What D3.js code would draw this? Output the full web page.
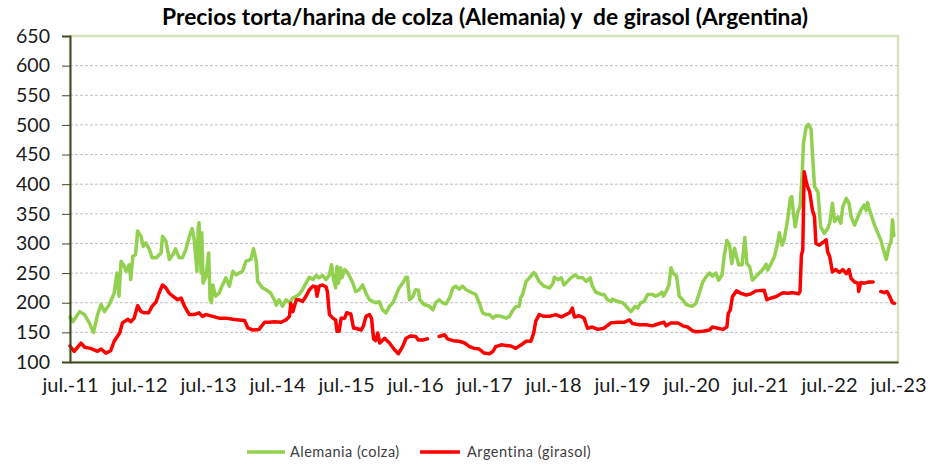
<!DOCTYPE html>
<html>
<head>
<meta charset="utf-8">
<script src="https://cdn.jsdelivr.net/npm/d3@7"></script>
<style>
  html, body { margin: 0; padding: 0; background: #ffffff; }
  svg { display: block; }
</style>
</head>
<body>
<svg id="chart" width="950" height="465"></svg>
<script>
// ---- Data (decimal year, value) ----
const titleText = "Precios torta/harina de colza (Alemania) y  de girasol (Argentina)";
const seriesNames = ["Alemania (colza)", "Argentina (girasol)"];
const yTicks = [100, 150, 200, 250, 300, 350, 400, 450, 500, 550, 600, 650];
const xTickYears = [2011.5, 2012.5, 2013.5, 2014.5, 2015.5, 2016.5, 2017.5, 2018.5, 2019.5, 2020.5, 2021.5, 2022.5, 2023.5];
const xTickLabels = ["jul.-11", "jul.-12", "jul.-13", "jul.-14", "jul.-15", "jul.-16", "jul.-17", "jul.-18", "jul.-19", "jul.-20", "jul.-21", "jul.-22", "jul.-23"];

const colza = [
[2011.50,176],[2011.54,168],[2011.64,185],[2011.71,180],[2011.78,166],[2011.84,150],[2011.90,180],[2011.95,197],[2012.00,185],[2012.07,197],
[2012.14,216],[2012.18,250],[2012.21,211],[2012.24,270],[2012.29,261],[2012.31,253],[2012.36,264],[2012.38,239],[2012.41,278],[2012.45,281],
[2012.48,321],[2012.53,312],[2012.56,295],[2012.60,301],[2012.65,290],[2012.69,276],[2012.75,276],[2012.82,284],[2012.84,312],[2012.89,304],
[2012.94,273],[2012.99,281],[2013.03,291],[2013.08,276],[2013.13,276],[2013.18,290],[2013.23,312],[2013.27,325],[2013.30,307],[2013.34,253],
[2013.36,329],[2013.37,335],[2013.40,250],[2013.41,318],[2013.43,233],[2013.47,244],[2013.51,284],[2013.53,205],[2013.55,200],[2013.57,230],
[2013.61,211],[2013.66,216],[2013.71,230],[2013.76,242],[2013.81,228],[2013.86,253],[2013.91,247],[2013.95,250],[2014.00,253],[2014.05,270],
[2014.12,273],[2014.16,291],[2014.20,270],[2014.22,236],[2014.29,225],[2014.34,222],[2014.41,216],[2014.46,205],[2014.49,196],
[2014.53,205],[2014.58,194],[2014.63,205],[2014.68,200],[2014.73,208],[2014.78,211],[2014.82,214],[2014.87,222],[2014.92,233],[2014.97,243],
[2015.02,239],[2015.07,246],[2015.11,242],[2015.16,246],[2015.21,239],[2015.26,247],[2015.29,264],[2015.32,239],[2015.35,225],[2015.37,261],
[2015.39,233],[2015.42,259],[2015.44,242],[2015.48,256],[2015.51,253],[2015.55,245],[2015.60,233],[2015.64,219],[2015.69,222],[2015.74,230],
[2015.79,216],[2015.84,205],[2015.89,202],[2015.93,200],[2015.98,202],[2016.03,188],[2016.08,183],[2016.13,194],[2016.18,200],[2016.22,211],
[2016.27,225],[2016.32,233],[2016.37,243],[2016.39,243],[2016.42,205],[2016.47,211],[2016.51,222],[2016.55,221],[2016.57,205],[2016.63,197],
[2016.71,194],[2016.76,188],[2016.80,200],[2016.85,205],[2016.90,200],[2016.95,198],[2017.00,208],[2017.05,225],[2017.09,228],[2017.14,223],
[2017.19,228],[2017.24,222],[2017.29,219],[2017.34,216],[2017.38,214],[2017.43,200],[2017.48,183],[2017.53,180],
[2017.58,180],[2017.63,174],[2017.67,178],[2017.75,177],[2017.82,174],[2017.87,177],[2017.92,188],[2017.96,193],[2018.01,194],[2018.03,208],
[2018.06,214],[2018.11,236],[2018.16,242],[2018.22,251],[2018.25,247],[2018.30,236],[2018.37,228],[2018.45,225],[2018.50,233],[2018.52,243],
[2018.57,239],[2018.62,242],[2018.66,230],[2018.71,236],[2018.76,242],[2018.82,247],[2018.87,242],[2018.93,242],[2018.98,236],[2019.04,242],
[2019.07,228],[2019.12,218],[2019.20,214],[2019.24,214],[2019.29,205],[2019.34,202],[2019.36,206],[2019.44,202],[2019.51,200],[2019.56,194],
[2019.63,185],[2019.69,194],[2019.73,191],[2019.77,200],[2019.82,202],[2019.87,214],[2019.94,214],[2019.99,211],[2020.04,214],[2020.08,218],
[2020.10,211],[2020.14,219],[2020.18,230],[2020.21,259],[2020.24,250],[2020.29,245],[2020.33,211],[2020.38,205],[2020.43,197],[2020.48,195],
[2020.52,194],[2020.57,199],
[2020.62,216],[2020.67,235],[2020.72,244],[2020.77,250],[2020.81,245],[2020.86,250],[2020.90,238],[2020.95,247],[2020.98,278],[2021.02,305],
[2021.06,297],[2021.09,266],[2021.13,292],[2021.16,278],[2021.19,264],[2021.24,264],[2021.28,310],[2021.31,266],[2021.35,261],[2021.39,238],
[2021.44,244],[2021.49,250],[2021.54,256],[2021.59,265],[2021.61,255],[2021.66,266],[2021.71,278],[2021.76,303],[2021.78,318],[2021.82,297],
[2021.85,306],[2021.90,340],[2021.94,376],[2021.96,379],[2021.98,356],[2022.01,328],[2022.05,354],[2022.08,362],[2022.11,413],[2022.13,469],
[2022.17,497],[2022.20,501],[2022.24,493],[2022.26,452],[2022.29,396],[2022.34,387],[2022.36,356],[2022.38,328],[2022.43,317],[2022.48,325],
[2022.51,334],[2022.55,368],[2022.58,337],[2022.63,345],[2022.67,334],[2022.70,362],[2022.75,376],[2022.79,368],[2022.82,345],[2022.87,331],
[2022.92,345],[2022.96,356],[2023.01,365],[2023.04,356],[2023.06,369],[2023.08,359],[2023.12,345],[2023.16,331],[2023.21,317],[2023.25,306],
[2023.29,289],[2023.33,273],[2023.37,295],[2023.40,303],[2023.42,340],[2023.44,313]
];

const girasol = [
[2011.50,127],[2011.56,118],[2011.66,132],[2011.71,125],[2011.80,123],[2011.90,118],[2011.95,122],[2012.02,115],[2012.09,119],[2012.14,135],
[2012.22,149],[2012.26,166],[2012.34,172],[2012.38,168],[2012.43,174],[2012.48,195],[2012.53,185],[2012.58,183],[2012.64,183],[2012.69,194],
[2012.75,202],[2012.79,216],[2012.84,230],[2012.89,225],[2012.94,216],[2012.99,211],[2013.06,205],[2013.11,208],[2013.16,194],[2013.23,180],
[2013.30,180],[2013.37,183],[2013.42,177],[2013.47,180],[2013.57,177],[2013.66,174],[2013.76,174],[2013.86,172],[2013.95,171],[2014.03,170],
[2014.08,157],[2014.15,154],[2014.24,155],[2014.32,167],[2014.39,167],[2014.46,168],
[2014.56,167],[2014.63,171],[2014.68,177],[2014.70,199],[2014.73,185],[2014.78,205],[2014.82,205],[2014.87,202],[2014.92,211],[2014.97,222],
[2015.02,228],[2015.06,227],[2015.08,211],[2015.11,228],[2015.16,230],[2015.21,227],[2015.23,219],[2015.26,180],[2015.31,174],[2015.35,171],
[2015.37,152],[2015.40,152],[2015.43,174],[2015.48,174],[2015.51,183],[2015.57,181],[2015.61,157],[2015.64,157],[2015.72,154],[2015.75,160],
[2015.79,177],[2015.84,180],[2015.87,174],[2015.90,139],[2015.93,136],[2015.96,149],[2015.99,132],[2016.06,140],[2016.13,132],[2016.20,121],
[2016.26,114],[2016.32,126],[2016.37,140],[2016.44,144],[2016.51,143],[2016.55,137],[2016.61,137],[2016.68,139],[2016.76,null],[2016.85,143],
[2016.93,146],[2016.97,139],[2017.05,136],[2017.14,135],[2017.22,132],[2017.29,126],[2017.36,123],[2017.43,122],[2017.50,115],
[2017.58,114],[2017.63,118],[2017.67,126],[2017.75,129],[2017.82,128],[2017.89,127],[2017.96,123],[2018.04,129],[2018.11,135],[2018.18,135],
[2018.22,149],[2018.25,169],[2018.30,180],[2018.37,177],[2018.45,177],[2018.54,180],[2018.62,176],[2018.69,180],[2018.74,183],[2018.78,191],
[2018.81,176],[2018.88,178],[2018.95,174],[2019.00,157],[2019.07,159],[2019.15,155],[2019.24,157],[2019.34,166],[2019.44,167],[2019.53,167],
[2019.61,171],[2019.65,165],[2019.75,163],[2019.85,163],[2019.94,161],[2020.04,165],[2020.11,167],[2020.14,161],[2020.21,166],[2020.31,166],
[2020.38,161],[2020.45,159],[2020.52,153],
[2020.57,151],[2020.67,152],[2020.77,154],[2020.81,159],[2020.89,157],[2020.96,155],[2021.02,159],[2021.04,182],[2021.07,188],[2021.10,210],
[2021.16,220],[2021.22,216],[2021.30,213],[2021.37,215],[2021.44,220],[2021.56,221],[2021.60,205],[2021.66,208],[2021.73,210],[2021.83,217],
[2021.90,216],[2021.97,217],[2022.06,215],[2022.08,219],[2022.10,280],[2022.12,289],[2022.14,421],[2022.17,404],[2022.19,396],[2022.22,387],
[2022.26,356],[2022.29,345],[2022.31,300],[2022.36,297],[2022.40,301],[2022.43,303],[2022.46,306],[2022.48,286],[2022.51,278],[2022.55,252],
[2022.60,256],[2022.65,251],[2022.70,256],[2022.75,249],[2022.79,256],[2022.82,241],[2022.87,235],[2022.92,233],[2022.93,219],[2022.96,234],
[2023.01,233],[2023.08,235],[2023.14,235],[2023.20,null],[2023.25,219],[2023.30,217],[2023.34,219],[2023.37,213],[2023.42,200],[2023.45,199]
];

// ---- Layout ----
const svg = d3.select("#chart");
const L = 70, R = 898, T = 36, B = 362;
const FONT = "Lato, 'Open Sans', 'DejaVu Sans', sans-serif";

const x = d3.scaleLinear().domain([xTickYears[0], xTickYears[xTickYears.length - 1]]).range([L, R]);
const y = d3.scaleLinear().domain([yTicks[0], yTicks[yTicks.length - 1]]).range([B, T]);

// Plot area frame (light green)
svg.append("rect")
  .attr("x", L).attr("y", T).attr("width", R - L).attr("height", B - T)
  .attr("fill", "#ffffff").attr("stroke", "#d7e4bd").attr("stroke-width", 2.5);

// Gridlines
svg.append("g")
  .selectAll("line")
  .data(yTicks.filter(v => v > yTicks[0] && v < yTicks[yTicks.length - 1]))
  .join("line")
  .attr("x1", L).attr("x2", R)
  .attr("y1", d => y(d)).attr("y2", d => y(d))
  .attr("stroke", "#c0c0c0").attr("stroke-width", 1)
  .attr("stroke-dasharray", "3,2");

// Lines
const line = d3.line()
  .defined(d => d[1] != null)
  .x(d => x(d[0])).y(d => y(d[1]))
  .curve(d3.curveLinear);

svg.append("path").datum(colza)
  .attr("d", line).attr("fill", "none")
  .attr("stroke", "#92d050").attr("stroke-width", 3.5)
  .attr("stroke-linejoin", "round").attr("stroke-linecap", "round");

svg.append("path").datum(girasol)
  .attr("d", line).attr("fill", "none")
  .attr("stroke", "#ff0000").attr("stroke-width", 3.5)
  .attr("stroke-linejoin", "round").attr("stroke-linecap", "round");

// Y axis
const yAxis = d3.axisLeft(y).tickValues(yTicks).tickSize(8).tickPadding(12).tickFormat(d3.format("d"));
const gy = svg.append("g").attr("transform", `translate(${L},0)`).call(yAxis);
gy.select(".domain").attr("stroke", "#3f4a24").attr("stroke-width", 2);
gy.selectAll(".tick line").attr("stroke", "#3f4a24").attr("stroke-width", 1);
gy.selectAll("text").attr("font-family", FONT).attr("font-size", 19.5).attr("fill", "#1a1a1a");

// X axis
const xAxis = d3.axisBottom(x).tickValues(xTickYears).tickSize(0).tickPadding(16)
  .tickFormat((d, i) => xTickLabels[i]);
const gx = svg.append("g").attr("transform", `translate(0,${B})`).call(xAxis);
gx.select(".domain").attr("stroke", "#3f4a24").attr("stroke-width", 2);
gx.selectAll("text").attr("font-family", FONT).attr("font-size", 20).attr("fill", "#1a1a1a");

// Title
const title = svg.append("text")
  .attr("x", (L + R) / 2 + 1).attr("y", 25)
  .attr("text-anchor", "middle")
  .attr("font-family", FONT).attr("font-weight", "bold").attr("font-size", 18)
  .attr("fill", "#000000")
  .style("white-space", "pre")
  .text(titleText);
const tl = title.node().getComputedTextLength();
title.attr("font-size", 18 * 646 / tl);

// Legend
const legendItems = [
  { name: seriesNames[0], color: "#92d050", x0: 247, x1: 285, tx: 290 },
  { name: seriesNames[1], color: "#ff0000", x0: 420, x1: 460, tx: 467 }
];
const lg = svg.append("g");
legendItems.forEach(it => {
  lg.append("line").attr("x1", it.x0).attr("x2", it.x1).attr("y1", 452).attr("y2", 452)
    .attr("stroke", it.color).attr("stroke-width", 3.5);
  lg.append("text").attr("x", it.tx).attr("y", 457)
    .attr("font-family", FONT).attr("font-size", 14.5).attr("letter-spacing", 0.5)
    .attr("fill", "#404040")
    .text(it.name);
});
</script>
</body>
</html>
